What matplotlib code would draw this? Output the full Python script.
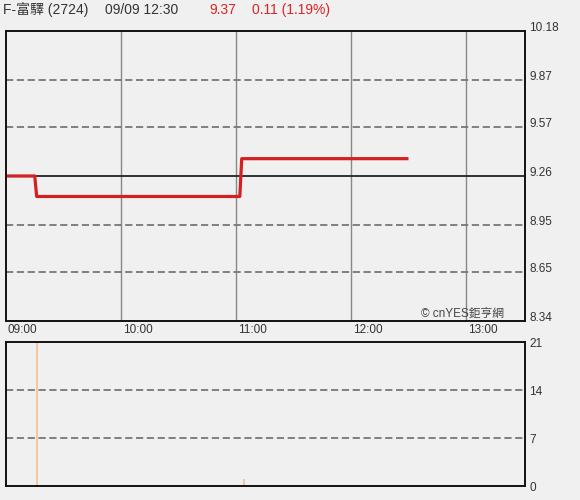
import matplotlib.pyplot as plt

plt.rcParams['font.family'] = ['Liberation Sans', 'Noto Sans CJK TC', 'DejaVu Sans']

# price data (minutes after 09:00)
price_min = [0, 15, 16, 122, 123, 210]
price_val = [9.26, 9.26, 9.13, 9.13, 9.37, 9.37]
prev_close = 9.26
price_ticks = [8.34, 8.65, 8.95, 9.26, 9.57, 9.87, 10.18]

# volume data
vol_min = [16, 124]
vol_val = [30, 1]
vol_ticks = [0, 7, 14, 21]

hour_min = [0, 60, 120, 180, 240]
hour_lbl = ["09:00", "10:00", "11:00", "12:00", "13:00"]

bg = '#f0f0f0'
fig = plt.figure(figsize=(5.8, 5.0), dpi=100, facecolor=bg)

ax = fig.add_axes([6/580, 1-321/500, 519/580, 290/500], facecolor=bg)
ax2 = fig.add_axes([6/580, 1-486/500, 519/580, 144/500], facecolor=bg)

xmax = 270.8

# top panel
for m in hour_min[1:]:
    ax.axvline(m, color='#888888', lw=1)
for t in price_ticks[1:-1]:
    if t == prev_close:
        ax.axhline(t, color='#222222', lw=1.3)
    else:
        ax.axhline(t, color='#777777', lw=1.3, ls=(0, (4, 2)))
ax.plot(price_min, price_val, color='#d42020', lw=2.3, solid_capstyle='butt')
ax.set_xlim(0, xmax)
ax.set_ylim(price_ticks[0], price_ticks[-1])
ax.set_xticks([])
ax.set_yticks([])
for m, l in zip(hour_min, hour_lbl):
    ax.text(m + 1, -0.012, l, transform=ax.get_xaxis_transform(), ha='left', va='top',
            fontsize=8.5, color='#333333')
for t in price_ticks:
    ax.text(1.008, t + 0.02, f"{t:.2f}", transform=ax.get_yaxis_transform(), ha='left',
            va='center', fontsize=8.5, color='#333333')
ax.text(0.96, 0.025, "© cnYES鉅亨網", transform=ax.transAxes, ha='right', va='center',
        fontsize=8.5, color='#444444')

# bottom panel
for t in vol_ticks[1:-1]:
    ax2.axhline(t, color='#777777', lw=1.3, ls=(0, (4, 2)))
ax2.bar(vol_min, vol_val, width=0.9, color='#f5c79a')
ax2.set_xlim(0, xmax)
ax2.set_ylim(vol_ticks[0], vol_ticks[-1])
ax2.set_xticks([])
ax2.set_yticks([])
for t in vol_ticks:
    ax2.text(1.008, t - 0.3, str(t), transform=ax2.get_yaxis_transform(), ha='left',
             va='center', fontsize=8.5, color='#333333')

for a in (ax, ax2):
    for s in a.spines.values():
        s.set_color('#111111')
        s.set_linewidth(1.4)

# header
fig.text(3/580, 1-10/500, "F-富驛 (2724)", ha='left', va='center', fontsize=10, color='#333333')
fig.text(105/580, 1-10/500, "09/09 12:30", ha='left', va='center', fontsize=10, color='#333333')
fig.text(209/580, 1-10/500, "9.37", ha='left', va='center', fontsize=10, color='#dd2222')
fig.text(252/580, 1-10/500, "0.11 (1.19%)", ha='left', va='center', fontsize=10, color='#dd2222')

fig.savefig("out.png", dpi=100, facecolor=bg)
